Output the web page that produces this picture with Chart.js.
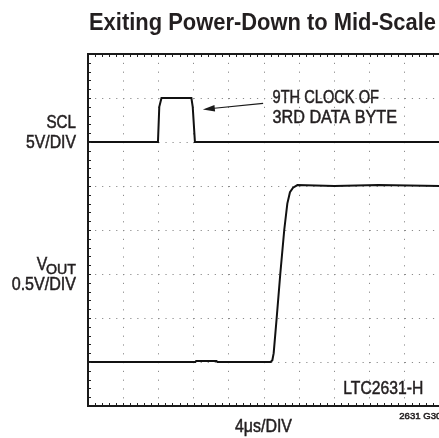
<!DOCTYPE html>
<html>
<head>
<meta charset="utf-8">
<script src="https://cdn.jsdelivr.net/npm/chart.js@4.4.1/dist/chart.umd.min.js"></script>
<style>
  html, body { margin: 0; padding: 0; background: #fff; overflow: hidden; }
  #wrap { width: 460px; height: 438px; }
</style>
</head>
<body>
<div id="wrap"><canvas id="scope" width="460" height="438"></canvas></div>
<script>
// time axis: 4us/div, 10 divisions
const timeMin = 0;
const timeMax = 40;
const divCount = 8;

// SCL trace (us, volts), 5V/div, ground at division 6
const sclTime = [0, 7.95, 8.1, 8.35, 11.75, 11.9, 12.15, 40];
const sclVolts = [0, 0, 4.0, 5.0, 5.0, 4.0, 0, 0];
const sclOffsetDiv = 6;
const sclVoltsPerDiv = 5;

// VOUT trace (us, volts), 0.5V/div, ground at division 1
const voutTime = [0, 12.2, 12.3, 14.6, 14.7, 20.75, 20.95, 21.1, 21.44, 21.85, 22.3, 22.65, 22.95, 23.3, 23.8, 28, 33, 40];
const voutVolts = [0, 0, 0.012, 0.012, 0, 0, 0.02, 0.1, 0.5, 1.0, 1.5, 1.8, 1.93, 1.98, 2.01, 2.0, 2.01, 2.0];
const voutOffsetDiv = 1;
const voutVoltsPerDiv = 0.5;

function toPoints(times, volts, offset, perDiv) {
  return times.map((t, i) => ({ x: t, y: offset + volts[i] / perDiv }));
}

// draw text squeezed to a given width (condensed look)
function fitText(ctx, text, x, y, size, weight, width, align) {
  ctx.save();
  ctx.font = weight + ' ' + size + 'px "Liberation Sans", Arial, sans-serif';
  const w = ctx.measureText(text).width;
  const sx = width / w;
  ctx.translate(align === 'right' ? x - width : x, y);
  ctx.scale(sx, 1);
  ctx.textAlign = 'left';
  ctx.textBaseline = 'alphabetic';
  ctx.fillText(text, 0, 0);
  if (weight === 'normal') {
    // thicken a little, the original face is heavier
    ctx.lineWidth = 0.5;
    ctx.strokeStyle = ctx.fillStyle;
    ctx.strokeText(text, 0, 0);
  }
  ctx.restore();
}

const scopeDecor = {
  id: 'scopeDecor',
  afterDraw(chart) {
    const ctx = chart.ctx;
    const xs = chart.scales.x;
    const ys = chart.scales.y;
    const area = chart.chartArea;

    // minor ticks on the frame
    ctx.save();
    ctx.strokeStyle = '#222';
    ctx.lineWidth = 1;
    ctx.beginPath();
    for (let t = timeMin; t <= timeMax + 0.01; t += 0.8) {
      const px = Math.round(xs.getPixelForValue(t)) + 0.5;
      ctx.moveTo(px, area.top); ctx.lineTo(px, area.top + 3);
      ctx.moveTo(px, area.bottom); ctx.lineTo(px, area.bottom - 3);
    }
    for (let d = 0; d <= divCount + 0.01; d += 0.2) {
      const py = Math.round(ys.getPixelForValue(d)) + 0.5;
      ctx.moveTo(area.left, py); ctx.lineTo(area.left + 3, py);
    }
    ctx.stroke();

    // frame
    ctx.lineWidth = 2;
    ctx.strokeStyle = '#1a1a1a';
    ctx.beginPath();
    ctx.moveTo(area.right, area.top);
    ctx.lineTo(area.left, area.top);
    ctx.lineTo(area.left, area.bottom);
    ctx.lineTo(area.right, area.bottom);
    ctx.stroke();

    // arrow to the 9th clock
    const tipX = xs.getPixelForValue(13.05), tipY = ys.getPixelForValue(6.74);
    const tailX = xs.getPixelForValue(19.9), tailY = ys.getPixelForValue(6.88);
    const ang = Math.atan2(tipY - tailY, tipX - tailX);
    ctx.lineWidth = 1.2;
    ctx.beginPath();
    ctx.moveTo(tailX, tailY);
    ctx.lineTo(tipX - 9 * Math.cos(ang), tipY - 9 * Math.sin(ang));
    ctx.stroke();
    ctx.fillStyle = '#1a1a1a';
    ctx.beginPath();
    ctx.moveTo(tipX, tipY);
    ctx.lineTo(tipX - 12 * Math.cos(ang) + 3.2 * Math.sin(ang), tipY - 12 * Math.sin(ang) - 3.2 * Math.cos(ang));
    ctx.lineTo(tipX - 12 * Math.cos(ang) - 3.2 * Math.sin(ang), tipY - 12 * Math.sin(ang) + 3.2 * Math.cos(ang));
    ctx.closePath();
    ctx.fill();

    // texts
    ctx.fillStyle = '#231f20';
    fitText(ctx, 'Exiting Power-Down to Mid-Scale', 89, 30, 23, 'bold', 347, 'left');
    fitText(ctx, '9TH CLOCK OF', 272.5, 102.7, 18, 'normal', 106.5, 'left');
    fitText(ctx, '3RD DATA BYTE', 272.5, 122.7, 18, 'normal', 124.5, 'left');
    fitText(ctx, 'SCL', 76, 128.3, 18, 'normal', 29.5, 'right');
    fitText(ctx, '5V/DIV', 76, 148.3, 18, 'normal', 50, 'right');
    fitText(ctx, 'V', 36.7, 270, 18, 'normal', 10.5, 'left');
    fitText(ctx, 'OUT', 76, 273.7, 15, 'normal', 30, 'right');
    fitText(ctx, '0.5V/DIV', 76, 290, 18, 'normal', 64.3, 'right');
    fitText(ctx, 'LTC2631-H', 343.3, 394.3, 18, 'normal', 80, 'left');
    fitText(ctx, '4\u03bcs/DIV', 235, 431.7, 18, 'normal', 57, 'left');
    fitText(ctx, '2631 G30', 399.3, 419.3, 9, 'normal', 42, 'left');
    ctx.restore();
  }
};

new Chart(document.getElementById('scope'), {
  type: 'line',
  data: {
    datasets: [
      {
        label: 'SCL',
        data: toPoints(sclTime, sclVolts, sclOffsetDiv, sclVoltsPerDiv),
        borderColor: '#111',
        borderWidth: 2,
        pointRadius: 0,
        tension: 0
      },
      {
        label: 'VOUT',
        data: toPoints(voutTime, voutVolts, voutOffsetDiv, voutVoltsPerDiv),
        borderColor: '#111',
        borderWidth: 2,
        pointRadius: 0,
        tension: 0
      }
    ]
  },
  options: {
    responsive: false,
    animation: false,
    devicePixelRatio: 1,
    layout: { padding: { left: 88, top: 54, right: 20, bottom: 32 } },
    plugins: { legend: { display: false }, tooltip: { enabled: false } },
    scales: {
      x: {
        type: 'linear',
        min: timeMin,
        max: timeMax,
        ticks: { display: false, stepSize: 4 },
        grid: { color: '#8c8c8c', lineWidth: 1, drawTicks: false },
        border: { display: false, dash: [1.2, 7.6] }
      },
      y: {
        type: 'linear',
        min: 0,
        max: divCount,
        ticks: { display: false, stepSize: 1 },
        grid: { color: '#8c8c8c', lineWidth: 1, drawTicks: false },
        border: { display: false, dash: [1.2, 5.84] }
      }
    }
  },
  plugins: [scopeDecor]
});
</script>
</body>
</html>
